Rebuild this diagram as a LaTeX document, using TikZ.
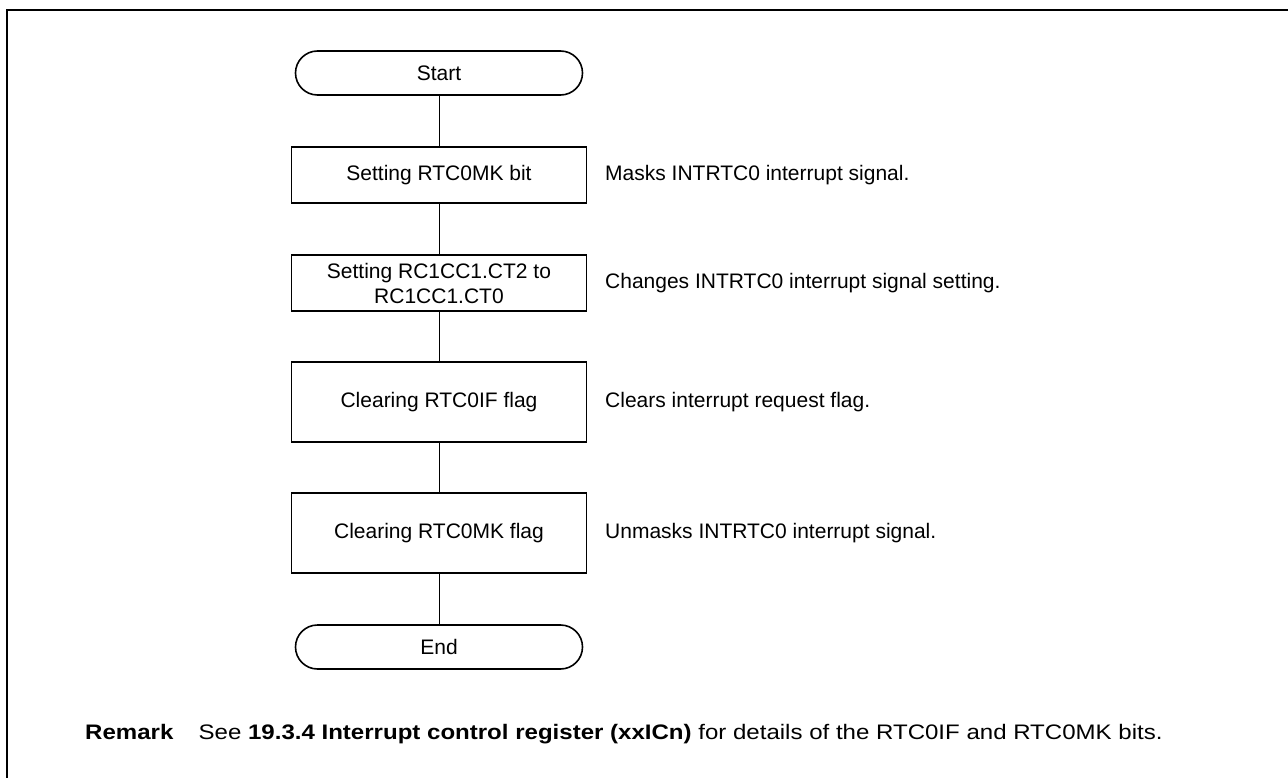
\documentclass[tikz,border=0pt]{standalone}
\usepackage{fontspec}
\usepackage{graphicx}
\setmainfont{Liberation Sans}
\begin{document}
\begin{tikzpicture}[x=1pt,y=-1pt,
  every node/.style={font=\fontsize{21}{25}\selectfont},
  procbox/.style={draw, line width=1.6pt, minimum width=295pt, inner sep=0pt, align=center},
  termbox/.style={draw, line width=1.6pt, rounded corners=22pt, minimum width=287pt, minimum height=44pt, inner sep=0pt},
  link/.style={line width=1pt},
  note/.style={anchor=west, inner sep=0pt}]
\useasboundingbox (0,0) rectangle (1288,778);
\draw[line width=2pt] (7,778) -- (7,10) -- (1288,10);
\node[termbox] (start) at (439,73) {Start};
\node[procbox, minimum height=56pt] (b1) at (439,175) {Setting RTC0MK bit};
\node[procbox, minimum height=56pt] (b2) at (439,283) {Setting RC1CC1.CT2 to\\RC1CC1.CT0};
\node[procbox, minimum height=80pt] (b3) at (439,402) {Clearing RTC0IF flag};
\node[procbox, minimum height=80pt] (b4) at (439,533) {Clearing RTC0MK flag};
\node[termbox] (end) at (439,647) {End};
\draw[link] (start) -- (b1);
\draw[link] (b1) -- (b2);
\draw[link] (b2) -- (b3);
\draw[link] (b3) -- (b4);
\draw[link] (b4) -- (end);
\node[note] (n1) at (605,175) {Masks INTRTC0 interrupt signal.};
\node[note] (n2) at (605,283) {Changes INTRTC0 interrupt signal setting.};
\node[note] (n3) at (605,402) {Clears interrupt request flag.};
\node[note] (n4) at (605,533) {Unmasks INTRTC0 interrupt signal.};
\node[note] (remark) at (85,734) {\scalebox{1.145}[1]{\textbf{Remark}\hspace{22pt}See \textbf{19.3.4 Interrupt control register (xxICn)} for details of the RTC0IF and RTC0MK bits.}};
\end{tikzpicture}
\end{document}
